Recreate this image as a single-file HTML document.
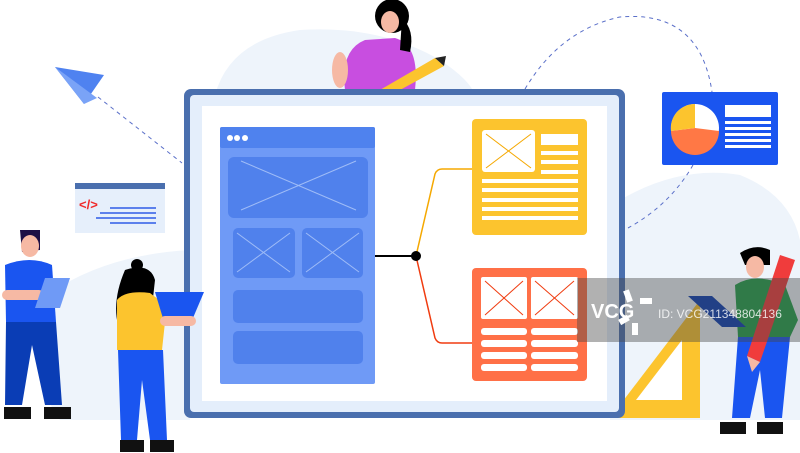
<!DOCTYPE html>
<html><head><meta charset="utf-8"><style>
html,body{margin:0;padding:0;background:#fff;width:800px;height:453px;overflow:hidden}
svg{display:block}
</style></head><body>
<svg width="800" height="453" viewBox="0 0 800 453" xmlns="http://www.w3.org/2000/svg">
<!-- background blobs -->
<path d="M215 95 Q230 40 300 30 Q380 25 440 60 Q470 80 475 95 Z" fill="#eef4fb"/>
<path d="M620 200 Q680 165 740 175 Q790 195 800 240 L800 420 L610 420 Z" fill="#eef4fb"/>
<path d="M40 300 Q100 255 190 250 L190 420 L60 420 Q30 380 40 300 Z" fill="#eef4fb"/>
<!-- dashed curves -->
<path d="M98 97 Q140 130 182 163" stroke="#5b70c9" stroke-width="1" fill="none" stroke-dasharray="4 4"/>
<path d="M525 89 Q560 30 620 17 Q700 10 712 92" stroke="#5b70c9" stroke-width="1" fill="none" stroke-dasharray="4 4"/>
<path d="M693 165 Q670 205 628 228" stroke="#5b70c9" stroke-width="1" fill="none" stroke-dasharray="4 4"/>
<!-- paper plane -->
<polygon points="55,67 104,75 84,104" fill="#4f82f0"/>
<polygon points="55,67 97,98 84,104" fill="#7aa3f7"/>
<!-- code card -->
<rect x="75" y="183" width="90" height="50" fill="#e6effb"/>
<rect x="75" y="183" width="90" height="6" fill="#4a6fae"/>
<text x="79" y="209" font-family="Liberation Sans, sans-serif" font-size="13" font-weight="bold" fill="#f02a2a">&lt;/&gt;</text>
<g stroke="#2e5ce8" stroke-width="1.5"><line x1="110" y1="208" x2="156" y2="208"/><line x1="100" y1="213" x2="156" y2="213"/><line x1="96" y1="218" x2="156" y2="218"/><line x1="110" y1="223" x2="156" y2="223"/></g>
<!-- pie card -->
<rect x="662" y="92" width="116" height="73" rx="2" fill="#1a55f0"/>
<circle cx="695" cy="128" r="24" fill="#fff"/>
<path d="M695 128 L671 131 A24 24 0 0 0 719 131 Z" fill="#ff7845"/>
<path d="M695 128 L695 104 A24 24 0 0 0 671 131 Z" fill="#fcc42e"/>
<rect x="725" y="105" width="46" height="12" fill="#fff"/>
<g fill="#fff"><rect x="725" y="121" width="46" height="3"/><rect x="725" y="127" width="46" height="3"/><rect x="725" y="133" width="46" height="3"/><rect x="725" y="139" width="46" height="3"/><rect x="725" y="145" width="46" height="3"/></g>
<!-- triangle ruler -->
<polygon points="700,300 700,418 610,418" fill="#fcc42e"/>
<polygon points="682,340 682,400 636,400" fill="#fff"/>
<!-- top woman -->
<path d="M345 90 Q340 50 365 40 L395 38 Q420 45 415 90 Z" fill="#c84ee0"/>
<ellipse cx="340" cy="70" rx="8" ry="18" fill="#f6b9a4"/>
<ellipse cx="392" cy="16" rx="17" ry="17" fill="#000"/>
<ellipse cx="390" cy="22" rx="9" ry="11" fill="#f6b9a4"/>
<path d="M402 18 Q415 30 410 52 L400 50 Z" fill="#000"/>
<polygon points="380,90 435,58 444,66 400,90" fill="#fcc42e"/>
<polygon points="435,58 446,56 444,66" fill="#222"/>
<!-- tablet -->
<rect x="184" y="89" width="441" height="329" rx="7" fill="#4a6fae"/>
<rect x="190" y="95" width="429" height="317" rx="4" fill="#e4eefb"/>
<rect x="202" y="106" width="405" height="295" fill="#fff"/>
<!-- blue panel -->
<rect x="220" y="127" width="155" height="257" rx="2" fill="#6f9af6"/>
<rect x="220" y="127" width="155" height="21" rx="2" fill="#4f82ee"/>
<g fill="#fff"><circle cx="230" cy="138" r="3"/><circle cx="237" cy="138" r="3"/><circle cx="245" cy="138" r="3"/></g>
<g fill="#5081ec">
<rect x="228" y="157" width="140" height="61" rx="6"/>
<rect x="233" y="228" width="62" height="50" rx="5"/>
<rect x="302" y="228" width="61" height="50" rx="5"/>
<rect x="233" y="290" width="130" height="33" rx="5"/>
<rect x="233" y="331" width="130" height="33" rx="5"/>
</g>
<g stroke="#9fbcf7" stroke-width="1">
<line x1="241" y1="161" x2="356" y2="210"/><line x1="241" y1="210" x2="356" y2="161"/>
<line x1="237" y1="233" x2="290" y2="272"/><line x1="237" y1="272" x2="290" y2="233"/>
<line x1="306" y1="233" x2="359" y2="272"/><line x1="306" y1="272" x2="359" y2="233"/>
</g>
<!-- connectors -->
<line x1="375" y1="256" x2="416" y2="256" stroke="#000" stroke-width="2"/>
<path d="M416 256 L435 174 Q437 169 442 169 L472 169" stroke="#f5a800" stroke-width="1.5" fill="none"/>
<path d="M416 256 L435 338 Q437 343 442 343 L472 343" stroke="#f03c10" stroke-width="1.5" fill="none"/>
<circle cx="416" cy="256" r="5" fill="#000"/>
<!-- yellow card -->
<rect x="472" y="119" width="115" height="116" rx="4" fill="#fcc42e"/>
<rect x="482" y="130" width="53" height="42" rx="3" fill="#fff"/>
<g stroke="#f5a800" stroke-width="1"><line x1="486" y1="134" x2="531" y2="168"/><line x1="486" y1="168" x2="531" y2="134"/></g>
<g fill="#fff">
<rect x="541" y="134" width="37" height="11"/><rect x="541" y="151" width="37" height="4"/><rect x="541" y="160" width="37" height="4"/><rect x="541" y="170" width="37" height="4"/>
<rect x="482" y="179" width="96" height="4"/><rect x="482" y="188" width="96" height="4"/><rect x="482" y="198" width="96" height="4"/><rect x="482" y="207" width="96" height="4"/><rect x="482" y="216" width="96" height="4"/>
</g>
<!-- red card -->
<rect x="472" y="268" width="115" height="113" rx="4" fill="#ff7047"/>
<rect x="481" y="277" width="46" height="42" rx="2" fill="#fff"/>
<rect x="531" y="277" width="47" height="42" rx="2" fill="#fff"/>
<g stroke="#f03c10" stroke-width="1"><line x1="485" y1="281" x2="523" y2="315"/><line x1="485" y1="315" x2="523" y2="281"/><line x1="535" y1="281" x2="574" y2="315"/><line x1="535" y1="315" x2="574" y2="281"/></g>
<g fill="#fff">
<rect x="481" y="328" width="46" height="7" rx="3"/><rect x="531" y="328" width="47" height="7" rx="3"/>
<rect x="481" y="340" width="46" height="7" rx="3"/><rect x="531" y="340" width="47" height="7" rx="3"/>
<rect x="481" y="352" width="46" height="7" rx="3"/><rect x="531" y="352" width="47" height="7" rx="3"/>
<rect x="481" y="364" width="46" height="7" rx="3"/><rect x="531" y="364" width="47" height="7" rx="3"/>
</g>
<!-- left man -->
<path d="M20 230 L40 230 L40 250 L22 252 Z" fill="#1d0f45"/>
<ellipse cx="30" cy="246" rx="9" ry="11" fill="#f6b9a4"/>
<path d="M5 265 Q30 255 52 265 L56 322 L6 322 Z" fill="#1a55f0"/>
<rect x="2" y="290" width="42" height="10" rx="5" fill="#f6b9a4"/>
<polygon points="45,278 70,278 60,308 35,308" fill="#6f9af6"/>
<path d="M6 322 L56 322 L62 405 L45 405 L32 345 L22 405 L5 405 Z" fill="#0a3db5"/>
<rect x="4" y="407" width="27" height="12" fill="#111"/><rect x="44" y="407" width="27" height="12" fill="#111"/>
<!-- left woman -->
<circle cx="137" cy="265" r="6" fill="#000"/>
<path d="M125 270 Q150 262 155 280 L150 325 L118 325 Q112 300 125 270 Z" fill="#000"/>
<path d="M117 300 Q125 290 150 293 L172 310 L165 322 L162 350 L117 350 Z" fill="#fcc42e"/>
<polygon points="155,292 204,292 190,325 165,325" fill="#1a55f0"/>
<rect x="160" y="316" width="36" height="10" rx="5" fill="#f6b9a4"/>
<path d="M118 350 L163 350 L167 440 L150 440 L142 380 L137 440 L121 440 Z" fill="#1a55f0"/>
<rect x="120" y="440" width="24" height="12" fill="#111"/><rect x="150" y="440" width="24" height="12" fill="#111"/>
<!-- right man -->
<path d="M740 253 Q755 243 770 250 L770 265 L745 265 Z" fill="#000"/>
<ellipse cx="755" cy="267" rx="9" ry="11" fill="#f6b9a4"/>
<path d="M735 285 Q755 272 785 285 L798 320 L790 337 L738 337 Z" fill="#22a04a"/>
<path d="M738 337 L790 337 L782 418 L765 418 L760 370 L750 418 L732 418 Z" fill="#1a55f0"/>
<rect x="720" y="422" width="26" height="12" fill="#111"/><rect x="757" y="422" width="26" height="12" fill="#111"/>
<polygon points="688,296 712,296 746,327 722,327" fill="#0a3db5"/>
<polygon points="780,255 795,260 760,362 747,356" fill="#f03c3c"/>
<polygon points="747,356 760,362 752,372" fill="#f6b9a4"/>
<!-- watermark -->
<rect x="577" y="278" width="223" height="64" fill="rgba(70,70,70,0.42)"/>
<text x="591" y="318" font-family="Liberation Sans, sans-serif" font-size="20" font-weight="bold" fill="#fff">VCG</text>
<g fill="#fff"><rect x="625" y="290" width="6" height="12" transform="rotate(-20 628 296)"/><rect x="640" y="298" width="12" height="6"/><rect x="632" y="323" width="6" height="12"/><rect x="619" y="317" width="10" height="6" transform="rotate(-30 624 320)"/></g>
<text x="658" y="318" font-family="Liberation Sans, sans-serif" font-size="12" fill="rgba(255,255,255,0.8)">ID: VCG211348804136</text>
</svg>
</body></html>
